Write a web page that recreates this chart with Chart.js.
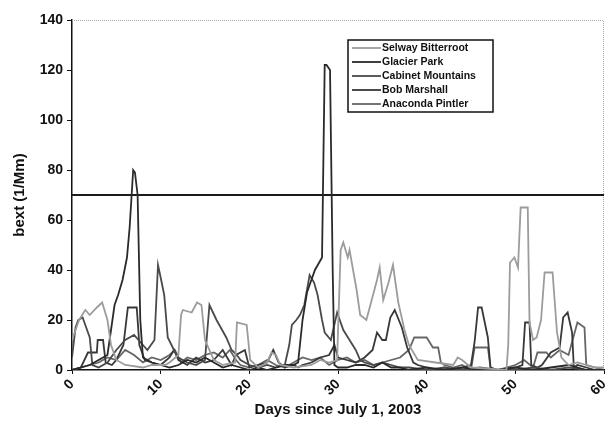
<!DOCTYPE html>
<html>
<head>
<meta charset="utf-8">
<script src="https://cdn.jsdelivr.net/npm/chart.js@4"></script>
<style>
  html, body { margin: 0; background: #fff; }
</style>
</head>
<body>
<canvas id="chart" width="610" height="435"></canvas>
<script>
// Days since July 1, 2003 / bext (1/Mm)
const selwayDays = [0, 0.3, 0.8, 1.5, 2.0, 2.8, 3.4, 4.0, 4.4, 5.0, 6, 8, 9, 10.5, 11, 12, 12.3, 12.5, 13.5, 14.1, 14.6, 15, 16, 17, 18.4, 18.6, 19.7, 20.1, 21, 22, 22.5, 23, 23.5, 25, 27, 28, 29, 29.9, 30.3, 30.6, 31.1, 31.3, 32.1, 32.5, 33.2, 33.8, 34.4, 34.7, 35.1, 35.7, 36.2, 36.8, 37.5, 38, 39, 41, 43, 43.5, 44, 45, 49, 49.2, 49.4, 49.9, 50.3, 50.6, 51.4, 51.6, 52.0, 52.4, 52.9, 53.3, 54.2, 54.7, 55.2, 56, 57, 58, 59, 60];
const selwayBext = [12, 15, 20, 24, 22, 25, 27, 20, 10, 4, 2, 1, 2, 2, 3, 6, 22, 24, 23, 27, 26, 12, 4, 2, 3, 19, 18, 4, 1, 3, 7, 6, 2, 1, 2, 4, 3, 4, 48, 51, 45, 48, 32, 22, 20, 28, 36, 41, 28, 35, 42, 27, 16, 10, 4, 3, 2, 5, 4, 1, 0, 10, 43, 45, 41, 65, 65, 19, 12, 13, 20, 39, 39, 15, 5, 2, 3, 2, 1, 1];

const glacierDays = [0, 1, 2, 3, 4, 4.8, 5.2, 5.7, 6.2, 6.5, 6.9, 7.1, 7.4, 7.7, 8.0, 9, 10, 11, 12, 13, 14, 15, 16, 17, 18, 19, 20, 21, 22, 23, 24, 25, 25.5, 26, 26.5, 27.4, 28.2, 28.5, 28.7, 29.1, 29.4, 29.6, 30, 31, 32, 33, 34, 35, 36, 37, 38, 40, 42, 44, 46, 48, 50, 52, 54, 56, 58, 60];
const glacierBext = [0, 1, 2, 4, 6, 26, 30, 36, 45, 57, 80, 79, 70, 20, 5, 3, 2, 1, 2, 4, 3, 5, 3, 1, 2, 1, 0, 1, 0, 1, 2, 2, 3, 20, 31, 40, 45, 122, 122, 120, 40, 2, 1, 1, 2, 2, 1, 3, 1, 1, 0, 1, 0, 1, 0, 0, 1, 0, 1, 2, 0, 0];

const cabinetDays = [0, 0.4, 0.7, 1.2, 2.0, 2.3, 3, 4, 5, 6, 7, 8, 8.5, 9.3, 9.7, 10.0, 10.4, 10.8, 11.5, 12, 13, 14, 15, 15.5, 16.3, 17.4, 18.0, 18.6, 19, 20, 21, 22, 23, 24, 24.5, 24.8, 25.3, 25.7, 26.2, 26.8, 27.3, 27.7, 28.2, 28.5, 29.2, 29.9, 30.6, 31.3, 32, 32.5, 33, 34, 35, 36, 37, 38, 40, 42, 44, 46, 48, 50, 52, 54, 56, 58, 60];
const cabinetBext = [5, 17, 20, 21, 13, 2, 1, 3, 8, 12, 14, 10, 8, 12, 42, 37, 30, 13, 8, 5, 3, 2, 4, 26, 20, 13, 8, 6, 4, 2, 1, 2, 1, 2, 10, 18, 20, 22, 26, 38, 35, 30, 20, 15, 12, 23, 16, 12, 8, 4, 3, 2, 3, 2, 1, 1, 0, 1, 0, 1, 0, 0, 1, 0, 1, 0, 0];

const bobDays = [0, 1, 1.8, 2.8, 2.9, 3.5, 3.8, 4.5, 5, 5.8, 6.3, 7.3, 7.6, 8.2, 9, 10, 11, 11.5, 12, 13, 14, 15, 16, 17, 18, 18.5, 19.5, 20, 21, 22, 22.7, 23.3, 24, 25, 25.5, 26, 27, 28, 29, 29.6, 30, 31, 32, 33, 33.9, 34.4, 35, 35.4, 35.9, 36.4, 37.2, 37.8, 38.5, 39, 40, 41, 42, 43, 44, 45, 45.4, 45.8, 46.2, 46.9, 47.2, 48, 50, 50.8, 51.1, 51.6, 51.8, 52.5, 53, 54, 55, 55.4, 55.9, 56.4, 56.6, 57, 58, 59, 60];
const bobBext = [0, 1, 7, 7, 12, 12, 3, 2, 4, 10, 25, 25, 10, 4, 3, 2, 5, 8, 4, 2, 5, 3, 4, 8, 2, 6, 8, 1, 2, 3, 8, 3, 1, 2, 1, 2, 3, 5, 6, 10, 5, 4, 3, 5, 8, 15, 12, 12, 21, 24, 17, 9, 3, 2, 1, 0, 1, 0, 1, 2, 11, 25, 25, 13, 1, 0, 1, 2, 19, 19, 2, 1, 2, 7, 9, 21, 23, 15, 1, 2, 1, 0, 0];

const anacondaDays = [0, 2, 3, 4, 5, 6, 7, 8, 9, 10, 11, 11.6, 12.3, 13, 14, 15, 16, 17, 17.8, 18.5, 19, 20, 21, 22, 23, 24, 25, 26, 27, 28, 29, 30, 31, 32, 33, 34, 35, 36, 37, 38, 38.6, 40, 40.7, 41.3, 41.6, 42, 43, 44, 45, 45.4, 46.9, 47.2, 48, 49, 50, 51, 52, 52.5, 53.5, 54, 55, 56, 57, 57.8, 58, 59, 60];
const anacondaBext = [0, 2, 3, 5, 4, 8, 6, 3, 5, 4, 6, 8, 3, 5, 4, 6, 7, 5, 8, 4, 2, 1, 2, 4, 2, 1, 3, 5, 4, 5, 2, 4, 5, 3, 4, 2, 3, 4, 5, 8, 13, 13, 9, 9, 3, 2, 1, 2, 0, 9, 9, 1, 0, 1, 2, 4, 1, 7, 7, 5, 8, 6, 19, 17, 2, 1, 0];

// horizontal reference level
const refDays = [0, 60];
const refBext = [70, 70];

const yTicks = [0, 20, 40, 60, 80, 100, 120, 140];
const xTicks = [0, 10, 20, 30, 40, 50, 60];

function pts(xs, ys) {
  return xs.map((x, i) => ({ x: x, y: ys[i] }));
}

function series(label, xs, ys, color) {
  return {
    label: label,
    data: pts(xs, ys),
    borderColor: color,
    backgroundColor: color,
    borderWidth: 1.8,
    pointRadius: 0,
    tension: 0
  };
}

const FONT = "'Liberation Sans', Arial, Helvetica, sans-serif";

// legend drawn as a boxed list inside the plot, like the original
const boxLegend = {
  id: "boxLegend",
  afterDraw(chart) {
    const ctx = chart.ctx;
    const items = chart.data.datasets.filter(d => d.label);
    const x = 348, y = 40, w = 145, h = 72;
    ctx.save();
    ctx.fillStyle = "#fff";
    ctx.fillRect(x, y, w, h);
    ctx.strokeStyle = "#111";
    ctx.lineWidth = 1.5;
    ctx.strokeRect(x, y, w, h);
    ctx.font = "bold 10.5px " + FONT;
    ctx.textBaseline = "middle";
    items.forEach((d, i) => {
      const ly = y + 8 + i * 14;
      ctx.strokeStyle = d.borderColor;
      ctx.lineWidth = 1.8;
      ctx.beginPath();
      ctx.moveTo(x + 4, ly);
      ctx.lineTo(x + 33, ly);
      ctx.stroke();
      ctx.fillStyle = "#111";
      ctx.fillText(d.label, x + 34, ly + 0.5);
    });
    ctx.restore();
  }
};

// thin gray frame on top and right of the plot area
const plotFrame = {
  id: "plotFrame",
  beforeDatasetsDraw(chart) {
    const { ctx, chartArea: a } = chart;
    ctx.save();
    ctx.strokeStyle = "#aaa";
    ctx.lineWidth = 1;
    ctx.setLineDash([1, 1]);
    ctx.beginPath();
    ctx.moveTo(a.left, a.top + 0.5);
    ctx.lineTo(a.right - 0.5, a.top + 0.5);
    ctx.lineTo(a.right - 0.5, a.bottom);
    ctx.stroke();
    ctx.restore();
  }
};

new Chart(document.getElementById("chart"), {
  type: "line",
  data: {
    datasets: [
      series("Selway Bitterroot", selwayDays, selwayBext, "#9c9c9c"),
      series("Glacier Park", glacierDays, glacierBext, "#2a2a2a"),
      series("Cabinet Mountains", cabinetDays, cabinetBext, "#4a4a4a"),
      series("Bob Marshall", bobDays, bobBext, "#383838"),
      series("Anaconda Pintler", anacondaDays, anacondaBext, "#666666"),
      {
        label: "",
        data: pts(refDays, refBext),
        borderColor: "#1a1a1a",
        borderWidth: 1.8,
        pointRadius: 0
      }
    ]
  },
  options: {
    responsive: false,
    animation: false,
    layout: { padding: { top: 20, right: 6, left: 0, bottom: 0 } },
    plugins: {
      legend: { display: false },
      tooltip: { enabled: false }
    },
    scales: {
      x: {
        type: "linear",
        min: 0,
        max: 60,
        afterBuildTicks: s => { s.ticks = xTicks.map(v => ({ value: v })); },
        afterFit: s => { s.height = 65; s.paddingLeft = 0; s.paddingRight = 0; },
        border: { color: "#111", width: 1.5 },
        grid: { drawOnChartArea: false, color: "#111", tickLength: 4 },
        ticks: {
          color: "#111",
          minRotation: 45,
          maxRotation: 45,
          padding: 2,
          font: { family: FONT, size: 14, weight: "bold" }
        },
        title: {
          display: true,
          text: "Days since July 1, 2003",
          color: "#111",
          padding: { top: 0, bottom: 16 },
          font: { family: FONT, size: 15, weight: "bold" }
        }
      },
      y: {
        min: 0,
        max: 140,
        afterBuildTicks: s => { s.ticks = yTicks.map(v => ({ value: v })); },
        afterFit: s => { s.width = 72; s.paddingTop = 0; s.paddingBottom = 0; },
        border: { color: "#111", width: 1.5 },
        grid: { drawOnChartArea: false, color: "#111", tickLength: 5 },
        ticks: {
          color: "#111",
          padding: 4,
          font: { family: FONT, size: 14, weight: "bold" }
        },
        title: {
          display: true,
          text: "bext (1/Mm)",
          color: "#111",
          padding: { top: 11, bottom: 0 },
          font: { family: FONT, size: 15, weight: "bold" }
        }
      }
    }
  },
  plugins: [plotFrame, boxLegend]
});
</script>
</body>
</html>
